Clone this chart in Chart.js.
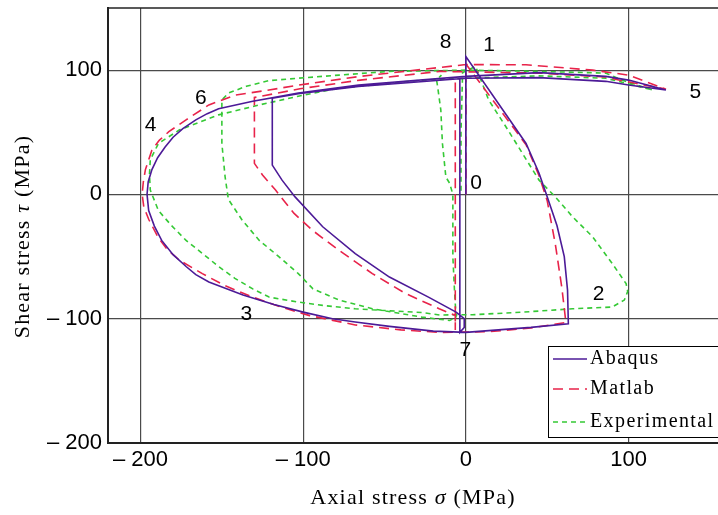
<!DOCTYPE html>
<html>
<head>
<meta charset="utf-8">
<script src="https://cdn.jsdelivr.net/npm/chart.js@4"></script>
<style>
  html, body { margin: 0; padding: 0; background: #fff; }
  canvas { display: block; }
</style>
</head>
<body>
<canvas id="chart" width="718" height="515"></canvas>
<script>
// values (axial stress, shear stress) in MPa
const xTicks = [-200, -100, 0, 100];
const yTicks = [-200, -100, 0, 100];

const abaqus = [
  [0, 0], [0, 111], [37, 41], [45, 17], [49, 2], [56, -25], [60.5, -50], [62.5, -77], [63, -104],
  [40, -107], [20, -109], [0, -111], [-20, -110], [-47, -106.2], [-68, -102.7], [-82, -100],
  [-100, -94.7], [-118, -88.5], [-137, -81], [-158, -70.5], [-166, -64.5], [-172, -58], [-180, -48.5],
  [-187, -37], [-191.5, -25.5], [-195, -13], [-196, 0], [-195.3, 10], [-193, 20], [-189.5, 29.5],
  [-185, 38], [-180, 46], [-174, 53], [-166, 60], [-159, 65], [-152, 69], [-131, 75], [-103, 81.5],
  [-66, 88], [0, 95], [45, 98], [86, 95], [100, 92], [123, 84], [100, 88], [86, 91], [45, 94],
  [0, 93.5], [-66, 86.8], [-103, 81], [-119, 77.4], [-119, 23.6], [-113, 11.5], [-105, -2],
  [-88, -26], [-68, -47.6], [-47, -66.5], [-23, -82.6], [-6, -94.7], [-1, -100], [-1, -107],
  [-3.7, -111], [-3.7, 93.5]
];

const matlab = [
  [0, 0], [0, 105], [37, 40], [45, 15], [50, -5], [55, -40], [59, -75], [61.5, -103],
  [40, -107.5], [14, -110.5], [-16, -111], [-40, -109], [-68, -105], [-96, -97.5], [-114, -90.5],
  [-131, -82.6], [-148, -73.5], [-162, -63.7], [-176, -53], [-183.5, -44.5], [-189, -35],
  [-195, -20], [-198, -10], [-199, 0], [-198.3, 10], [-197, 20], [-193, 35.7], [-188.5, 43.5],
  [-182.6, 50.5], [-172, 60], [-158, 72], [-141.5, 80], [-121, 84], [-102.6, 88], [-65, 95],
  [0, 104.5], [37, 104.3], [78, 100], [100, 96], [123, 84.7], [94, 92], [86, 94.5], [45, 97.6],
  [-16, 99], [-65, 92], [-102, 85], [-130, 78], [-130, 25], [-125, 15.6], [-117, 3.5],
  [-105.6, -15.3], [-94.4, -28.8], [-78, -45], [-57.5, -63.7], [-37, -79.8], [-16.4, -92],
  [-6.5, -97.3], [-6.5, -109], [-6.5, 90]
];

const experimental = [
  [-3, 3], [-3, 50], [-2, 98], [6, 103], [14, 76], [24.6, 54.5], [34.8, 33], [45, 11.5], [55, -2],
  [65.6, -18], [78, -34.2], [90, -55.6], [98.5, -71.8], [99.5, -78], [97.4, -85], [90, -90.6],
  [65.6, -92], [35, -94.7], [4, -96.8], [-16, -97], [-27, -95], [-68, -92], [-88, -89.3],
  [-103, -86.6], [-121, -82.6], [-131, -76], [-142, -67.5], [-152, -58], [-162, -47.5],
  [-172, -37], [-181, -25], [-189, -13], [-194, 3.5], [-194.5, 16], [-194, 28], [-189, 41],
  [-176, 52], [-152, 64], [-127, 72], [-103, 79], [-78, 85.5], [-27, 92], [0, 93.5], [45, 95.4],
  [86, 93.5], [115, 84], [96, 92], [86, 97.6], [45, 99], [0, 100], [-47, 99], [-78, 96],
  [-103, 93.5], [-121, 91.6], [-135, 87], [-146, 81.5], [-150, 76], [-150, 41], [-148, 14],
  [-146, -4], [-137.5, -20.7], [-127, -37], [-115, -50], [-103, -63.7], [-94, -76], [-78, -85],
  [-57.5, -92], [-27, -98.7], [-10, -101.4], [-6, -99], [-7, -77], [-8, -50], [-8, -23], [-8, 0],
  [-10, 9], [-12.3, 14], [-14.4, 41], [-15.4, 68], [-17.5, 88], [-18, 92], [-15, 96]
];

// loading-path point numbers
const stepLabels = ["0", "1", "2", "3", "4", "5", "6", "7", "8"];
const stepX = [6.3, 14.3, 81.6, -134.9, -193.8, 141.1, -163, -0.4, -12.4];
const stepY = [9.4, 120.4, -80.1, -96.1, 55.3, 82, 77.4, -125.5, 122.3];

const seriesNames = ["Abaqus", "Matlab", "Experimental"];
const colors = ["#4c1a97", "#e8234a", "#35c935"];
const dashes = [[], [10, 6], [5, 4]];

const toPts = (arr) => arr.map(([x, y]) => ({ x, y }));
const fmt = (v) => (v < 0 ? "\u2013 " + Math.abs(v) : String(v));

function drawRich(ctx, parts, cx, cy, size) {
  const fonts = parts.map((p) => (p.i ? "italic " : "") + size + 'px "Liberation Serif"');
  const widths = parts.map((p, i) => {
    ctx.font = fonts[i];
    return ctx.measureText(p.t).width;
  });
  const total = widths.reduce((a, b) => a + b, 0);
  let x = cx - total / 2;
  ctx.textAlign = "left";
  ctx.textBaseline = "middle";
  parts.forEach((p, i) => {
    ctx.font = fonts[i];
    ctx.fillText(p.t, x, cy);
    x += widths[i];
  });
}

const extras = {
  id: "extras",
  afterDraw(c) {
    const { ctx, chartArea: a, scales } = c;
    ctx.save();

    // top frame line
    ctx.strokeStyle = "#222";
    ctx.lineWidth = 1.5;
    ctx.beginPath();
    ctx.moveTo(a.left, a.top);
    ctx.lineTo(a.right, a.top);
    ctx.stroke();

    // step numbers
    ctx.fillStyle = "#000";
    ctx.font = '21px "Liberation Sans"';
    ctx.textAlign = "center";
    ctx.textBaseline = "middle";
    stepLabels.forEach((t, i) => {
      ctx.fillText(t, scales.x.getPixelForValue(stepX[i]), scales.y.getPixelForValue(stepY[i]));
    });

    // legend
    const lx = a.right - 170, ly = a.bottom - 97;
    ctx.fillStyle = "#fff";
    ctx.fillRect(lx, ly, 200, 91);
    ctx.strokeStyle = "#000";
    ctx.lineWidth = 1;
    ctx.strokeRect(lx + 0.5, ly + 0.5, 200, 91);
    const rows = [13, 43, 76];
    seriesNames.forEach((name, i) => {
      const yy = ly + rows[i];
      ctx.strokeStyle = colors[i];
      ctx.lineWidth = 1.6;
      ctx.setLineDash(dashes[i]);
      ctx.beginPath();
      ctx.moveTo(lx + 5, yy);
      ctx.lineTo(lx + 39, yy);
      ctx.stroke();
      ctx.setLineDash([]);
      ctx.fillStyle = "#000";
      ctx.font = '20px "Liberation Serif"';
      ctx.letterSpacing = "1.4px";
      ctx.textAlign = "left";
      ctx.textBaseline = "middle";
      ctx.fillText(name, lx + 42, yy);
      ctx.letterSpacing = "0px";
    });

    // axis titles
    ctx.fillStyle = "#000";
    ctx.letterSpacing = "1.2px";
    drawRich(ctx, [{ t: "Axial stress " }, { t: "\u03c3", i: true }, { t: " (MPa)" }],
      (a.left + a.right) / 2, c.height - 17, 22);
    ctx.translate(23, (a.top + a.bottom) / 2 + 11);
    ctx.rotate(-Math.PI / 2);
    drawRich(ctx, [{ t: "Shear stress " }, { t: "\u03c4", i: true }, { t: " (MPa)" }], 0, 0, 22);
    ctx.restore();
  },
};

const tickFont = { family: '"Liberation Sans"', size: 22 };
const gridStyle = { color: "#4a4a4a", lineWidth: 1.2, drawTicks: false };

new Chart(document.getElementById("chart").getContext("2d"), {
  type: "scatter",
  data: {
    datasets: [abaqus, matlab, experimental].map((d, i) => ({
      label: seriesNames[i],
      data: toPts(d),
      showLine: true,
      borderColor: colors[i],
      borderWidth: 1.6,
      borderDash: dashes[i],
      pointRadius: 0,
      tension: 0,
      fill: false,
    })),
  },
  options: {
    responsive: false,
    animation: false,
    devicePixelRatio: 1,
    layout: { padding: { top: 8, right: 0, left: 0, bottom: 0 } },
    plugins: { legend: { display: false }, tooltip: { enabled: false } },
    scales: {
      x: {
        type: "linear",
        min: -220,
        max: 155,
        afterBuildTicks: (s) => { s.ticks = xTicks.map((v) => ({ value: v })); },
        afterFit: (s) => { s.height = 72; s.paddingLeft = 0; s.paddingRight = 0; },
        ticks: { font: tickFont, color: "#000", padding: 4, callback: fmt, maxRotation: 0 },
        grid: gridStyle,
        border: { color: "#222", width: 2 },
      },
      y: {
        type: "linear",
        min: -200,
        max: 150,
        afterBuildTicks: (s) => { s.ticks = yTicks.map((v) => ({ value: v })); },
        afterFit: (s) => { s.width = 108; s.paddingTop = 0; s.paddingBottom = 0; },
        ticks: { font: tickFont, color: "#000", padding: 6, callback: fmt },
        grid: gridStyle,
        border: { color: "#222", width: 2 },
      },
    },
  },
  plugins: [extras],
});
</script>
</body>
</html>
